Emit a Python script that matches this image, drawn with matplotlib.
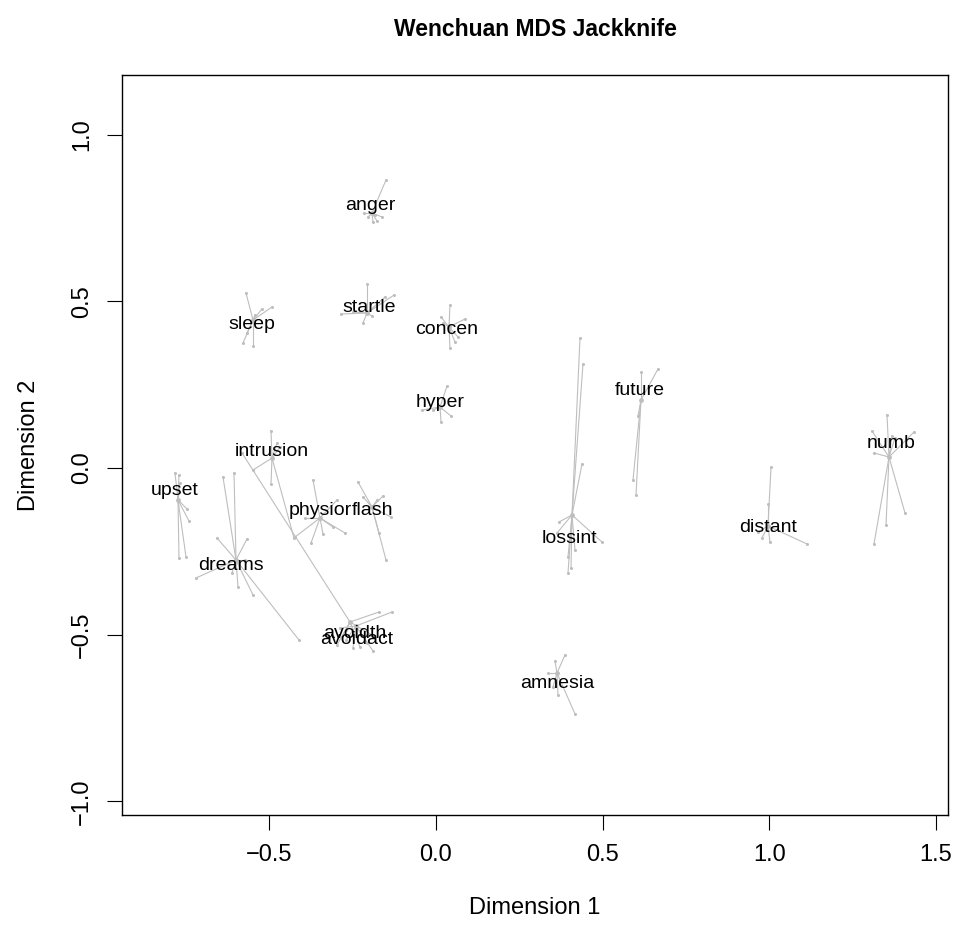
import matplotlib
matplotlib.use("Agg")
import matplotlib.pyplot as plt

plt.rcParams["font.family"] = ["Liberation Sans", "DejaVu Sans"]

# item names and their MDS configuration (label positions)
items = ["anger", "startle", "concen", "hyper", "sleep", "upset", "dreams",
         "intrusion", "physior", "flash", "avoidth", "avoidact", "lossint",
         "amnesia", "future", "distant", "numb"]
label_x = [-0.198, -0.201, 0.033, 0.012, -0.552, -0.783, -0.615,
           -0.492, -0.348, -0.192, -0.243, -0.237, 0.399,
           0.363, 0.612, 0.996, 1.365]
label_y = [0.786, 0.480, 0.414, 0.195, 0.429, -0.069, -0.294,
           0.048, -0.129, -0.129, -0.498, -0.516, -0.213,
           -0.648, 0.231, -0.180, 0.072]

# jackknife centres (where the segments start)
center_x = [-0.192, -0.207, 0.039, 0.012, -0.549, -0.774, -0.600,
            -0.492, -0.348, -0.192, -0.258, -0.240, 0.408,
            0.363, 0.615, 0.996, 1.359]
center_y = [0.765, 0.465, 0.423, 0.183, 0.444, -0.096, -0.276,
            0.030, -0.150, -0.117, -0.462, -0.474, -0.141,
            -0.615, 0.204, -0.174, 0.033]

# leave-one-out solutions for each item
jack_x = [
    [-0.150, -0.204, -0.189, -0.177, -0.162, -0.216, -0.183],
    [-0.207, -0.126, -0.153, -0.285, -0.219, -0.192, -0.249],
    [0.042, 0.015, 0.087, 0.042, 0.057, 0.066, 0.021],
    [0.033, 0.015, 0.045, -0.042, -0.009],
    [-0.570, -0.492, -0.522, -0.543, -0.579, -0.549, -0.567],
    [-0.783, -0.771, -0.771, -0.750, -0.741, -0.747, -0.768],
    [-0.639, -0.606, -0.657, -0.567, -0.720, -0.594, -0.549, -0.411, -0.573, -0.612],
    [-0.495, -0.477, -0.549, -0.495, -0.426, -0.468],
    [-0.369, -0.297, -0.273, -0.339, -0.375, -0.423, -0.393, -0.309],
    [-0.234, -0.159, -0.135, -0.150, -0.171, -0.219, -0.177],
    [-0.582, -0.171, -0.297, -0.228, -0.192, -0.270],
    [-0.132, -0.249, -0.189, -0.207, -0.270, -0.288],
    [0.432, 0.441, 0.438, 0.369, 0.363, 0.498, 0.396, 0.405, 0.396, 0.417],
    [0.387, 0.357, 0.336, 0.417, 0.366, 0.351],
    [0.615, 0.666, 0.591, 0.600, 0.606],
    [1.005, 0.996, 1.113, 1.002, 0.978, 0.966],
    [1.353, 1.308, 1.434, 1.314, 1.407, 1.350, 1.314, 1.368, 1.377],
]
jack_y = [
    [0.864, 0.753, 0.738, 0.741, 0.753, 0.765, 0.759],
    [0.552, 0.519, 0.513, 0.462, 0.435, 0.456, 0.468],
    [0.489, 0.453, 0.447, 0.360, 0.378, 0.393, 0.435],
    [0.246, 0.138, 0.156, 0.174, 0.174],
    [0.525, 0.483, 0.477, 0.459, 0.375, 0.366, 0.405],
    [-0.015, -0.021, -0.270, -0.267, -0.159, -0.123, -0.045],
    [-0.027, -0.015, -0.210, -0.213, -0.330, -0.357, -0.381, -0.516, -0.276, -0.315],
    [0.111, 0.075, -0.006, -0.048, -0.210, 0.063],
    [-0.036, -0.096, -0.195, -0.198, -0.225, -0.207, -0.150, -0.177],
    [-0.042, -0.084, -0.147, -0.276, -0.195, -0.087, -0.096],
    [0.045, -0.432, -0.531, -0.537, -0.501, -0.486],
    [-0.432, -0.540, -0.549, -0.525, -0.516, -0.480],
    [0.390, 0.312, 0.012, -0.162, -0.195, -0.222, -0.315, -0.300, -0.267, -0.246],
    [-0.561, -0.579, -0.615, -0.738, -0.681, -0.657],
    [0.288, 0.297, -0.036, -0.081, 0.156],
    [0.003, -0.108, -0.228, -0.222, -0.210, -0.192],
    [0.159, 0.111, 0.108, 0.045, -0.135, -0.171, -0.228, 0.096, 0.090],
]

x_ticks = [-0.5, 0.0, 0.5, 1.0, 1.5]
y_ticks = [-1.0, -0.5, 0.0, 0.5, 1.0]

fig = plt.figure(figsize=(9.54, 9.32), dpi=100)
ax = fig.add_axes([122 / 954, 1 - 815 / 932, (948 - 122) / 954, (815 - 75) / 932])

grey = "#BEBEBE"
for cx, cy, jx, jy in zip(center_x, center_y, jack_x, jack_y):
    for px, py in zip(jx, jy):
        ax.plot([cx, px], [cy, py], color=grey, lw=0.8, zorder=1)
    ax.plot(jx, jy, "o", color=grey, ms=2.2, mew=0, zorder=2)
    ax.plot(cx, cy, "o", color=grey, ms=3.5, mew=0, zorder=2)

for name, lx, ly in zip(items, label_x, label_y):
    ax.text(lx, ly, name, ha="center", va="center", fontsize=14, color="black", zorder=3)

ax.set_xlim(-0.942, 1.536)
ax.set_ylim(-1.041, 1.179)
ax.set_xticks(x_ticks)
ax.set_yticks(y_ticks)
ax.set_xticklabels([f"{v:.1f}".replace("-", "\u2212") for v in x_ticks])
ax.set_yticklabels([f"{v:.1f}".replace("-", "\u2212") for v in y_ticks], rotation=90, va="center")
ax.tick_params(length=11, width=0.8, labelsize=17, pad=10, direction="out")
for s in ax.spines.values():
    s.set_linewidth(1.0)

ax.set_xlabel("Dimension 1", fontsize=17, labelpad=22)
ax.set_ylabel("Dimension 2", fontsize=17, labelpad=22)
fig.text(535 / 954, 1 - 30 / 932, "Wenchuan MDS Jackknife", ha="center", va="center",
         fontsize=16.5, fontweight="bold")

fig.savefig("out.png", dpi=100)
